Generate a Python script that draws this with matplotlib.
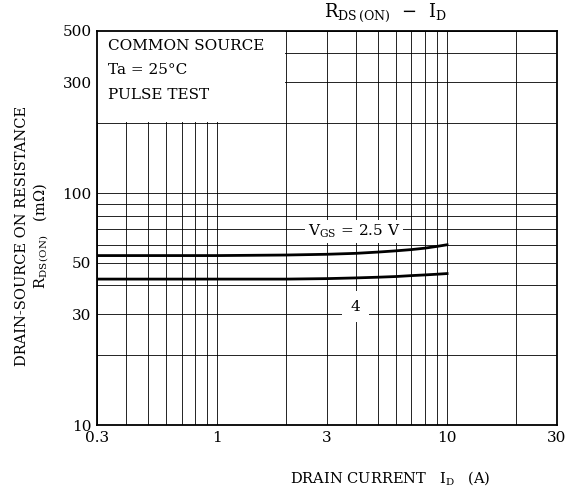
import matplotlib
matplotlib.use("Agg")
import matplotlib.pyplot as plt
from matplotlib.patches import Rectangle
from matplotlib.ticker import NullFormatter, LogLocator

plt.rcParams['font.family'] = 'DejaVu Serif'
plt.rcParams['mathtext.fontset'] = 'dejavuserif'

# drain current (A) and on resistance (mOhm)
id_a = [0.3, 1, 2, 3, 4, 5, 6, 7, 8, 9, 10]
rds_vgs25 = [53.8, 53.8, 54.1, 54.5, 55.0, 55.7, 56.4, 57.1, 57.9, 58.9, 59.9]
rds_vgs4 = [42.6, 42.6, 42.6, 42.8, 43.1, 43.4, 43.7, 44.1, 44.4, 44.7, 45.0]

xticks = [0.3, 1, 3, 10, 30]
xticklabels = ['0.3', '1', '3', '10', '30']
yticks = [10, 30, 50, 100, 300, 500]
yticklabels = ['10', '30', '50', '100', '300', '500']

fig = plt.figure(figsize=(5.71, 4.92), dpi=100)
ax = fig.add_axes([0.170, 0.136, 0.805, 0.801])
ax.set_xscale('log')
ax.set_yscale('log')
ax.set_xlim(0.3, 30)
ax.set_ylim(10, 500)

ax.set_xticks(xticks)
ax.set_xticklabels(xticklabels)
ax.set_yticks(yticks)
ax.set_yticklabels(yticklabels)
ax.xaxis.set_minor_locator(LogLocator(base=10, subs=range(2, 10)))
ax.yaxis.set_minor_locator(LogLocator(base=10, subs=range(2, 10)))
ax.xaxis.set_minor_formatter(NullFormatter())
ax.yaxis.set_minor_formatter(NullFormatter())
ax.tick_params(which='both', length=0, labelsize=11, pad=4)
ax.grid(which='both', color='black', lw=0.6)
ax.set_axisbelow(True)
for sp in ax.spines.values():
    sp.set_linewidth(1.3)

# white panel behind the test conditions
ax.add_patch(Rectangle((0.3, 203), 1.97 - 0.3, 500 - 203, facecolor='white',
                       edgecolor='none', zorder=1))
ax.text(0.335, 430, 'COMMON SOURCE', fontsize=11, va='center', zorder=3)
ax.text(0.335, 340, 'Ta = 25°C', fontsize=11, va='center', zorder=3)
ax.text(0.335, 265, 'PULSE TEST', fontsize=11, va='center', zorder=3)

ax.plot(id_a, rds_vgs25, color='black', lw=2.0, zorder=4)
ax.plot(id_a, rds_vgs4, color='black', lw=2.0, zorder=4)

ax.text(3.95, 68.5, r'V$_{\rm GS}$ = 2.5 V', fontsize=11, ha='center', va='center',
        zorder=5, bbox=dict(facecolor='white', edgecolor='none', pad=2))
ax.text(4.0, 32.4, '4', fontsize=11, ha='center', va='center', zorder=5,
        bbox=dict(facecolor='white', edgecolor='none', pad=6))

fig.text(0.675, 0.975, r'R$_{\rm DS\,(ON)}$  $-$  I$_{\rm D}$', fontsize=13,
         ha='center', va='center')
fig.text(0.683, 0.028, r'DRAIN CURRENT   I$_{\rm D}$   (A)', fontsize=10.5,
         ha='center', va='center')
fig.text(0.038, 0.52, 'DRAIN-SOURCE ON RESISTANCE', fontsize=10.5, rotation=90,
         ha='center', va='center')
fig.text(0.072, 0.52, r'R$_{\rm DS\,(ON)}$   (m$\Omega$)', fontsize=10.5, rotation=90,
         ha='center', va='center')

fig.savefig('out.png', dpi=100)
